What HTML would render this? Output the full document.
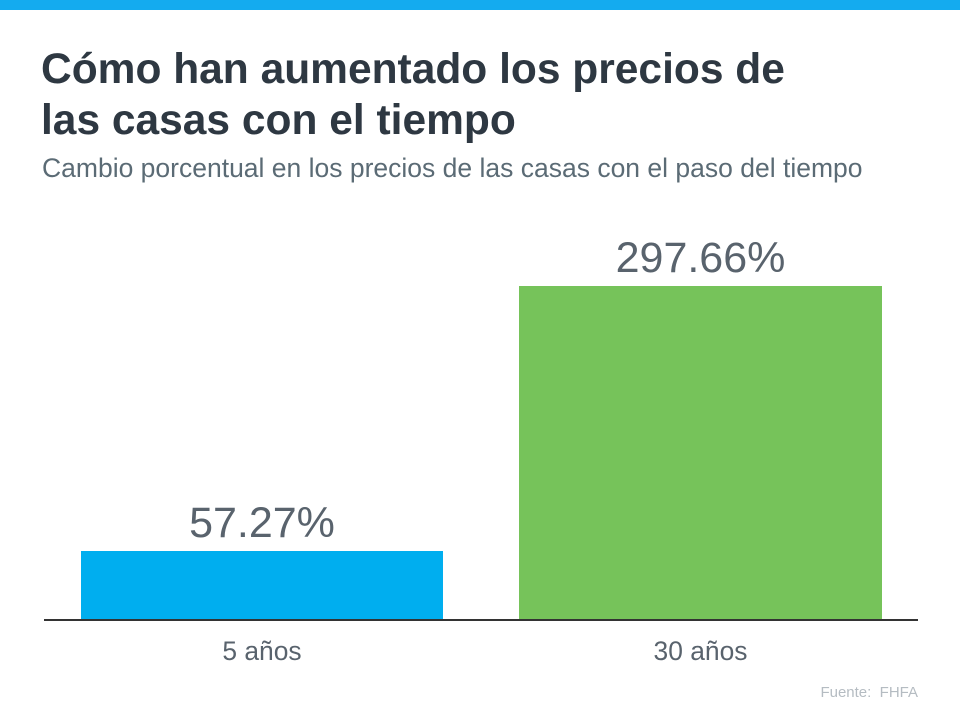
<!DOCTYPE html>
<html><head><meta charset="utf-8"><style>
body{margin:0;width:960px;height:720px;background:#fff;position:relative;overflow:hidden;font-family:"Liberation Sans",Arial,sans-serif}
.bar{position:absolute}
.t{position:absolute;white-space:nowrap}
</style></head><body>
<div class="bar" style="left:0;top:0;width:960px;height:10px;background:#14abef"></div>
<div class="t" style="left:41px;top:44px;font-size:42.5px;font-weight:bold;color:#2e3842;line-height:51px">Cómo han aumentado los precios de<br>las casas con el tiempo</div>
<div class="t" style="left:42px;top:153px;font-size:26.5px;color:#5b6b75">Cambio porcentual en los precios de las casas con el paso del tiempo</div>
<div class="bar" style="left:81px;top:551px;width:362px;height:69px;background:#00aeef"></div>
<div class="bar" style="left:519px;top:286px;width:363px;height:334px;background:#76c35a"></div>
<div class="bar" style="left:44px;top:619px;width:874px;height:2px;background:#333"></div>
<div class="t" style="left:81px;width:362px;text-align:center;top:499px;font-size:43px;color:#59636d">57.27%</div>
<div class="t" style="left:519px;width:363px;text-align:center;top:234px;font-size:43px;color:#59636d">297.66%</div>
<div class="t" style="left:81px;width:362px;text-align:center;top:636px;font-size:26.4px;color:#59636d">5 años</div>
<div class="t" style="left:519px;width:363px;text-align:center;top:636px;font-size:26.4px;color:#59636d">30 años</div>
<div class="t" style="right:42px;top:684px;font-size:15px;color:#b5bcc2">Fuente:&nbsp; FHFA</div>
</body></html>
